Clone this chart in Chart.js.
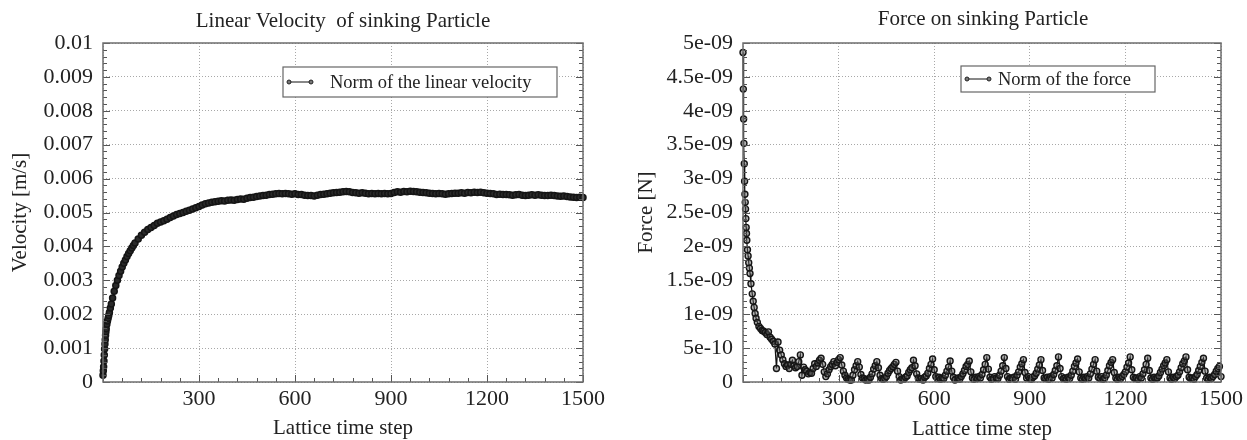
<!DOCTYPE html>
<html>
<head>
<meta charset="utf-8">
<script src="https://cdn.jsdelivr.net/npm/chart.js@4.4.1/dist/chart.umd.min.js"></script>
<style>
html, body { margin: 0; padding: 0; background: #fff; }
#velocityChart { position: absolute; left: 0; top: 0; }
#forceChart { position: absolute; left: 620px; top: 0; }
</style>
</head>
<body>
<canvas id="velocityChart" width="620" height="440"></canvas>
<canvas id="forceChart" width="627" height="440"></canvas>
<script>
// lattice time steps of the velocity samples
var velocitySteps = [
    0, 1, 2, 3, 4, 5, 6, 7, 8, 9, 10, 12, 14, 16, 18, 20, 23, 26, 30,
    35, 40, 45, 50, 55, 60, 65, 70, 75, 80, 85, 90, 95, 100,
    110, 120, 130, 140, 150, 160, 170, 180, 190, 200,
    210, 220, 230, 240, 250, 260, 270, 280, 290, 300,
    310, 320, 330, 340, 350, 360, 370, 380, 390, 400,
    410, 420, 430, 440, 450, 460, 470, 480, 490, 500,
    510, 520, 530, 540, 550, 560, 570, 580, 590, 600,
    610, 620, 630, 640, 650, 660, 670, 680, 690, 700,
    710, 720, 730, 740, 750, 760, 770, 780, 790, 800,
    810, 820, 830, 840, 850, 860, 870, 880, 890, 900,
    910, 920, 930, 940, 950, 960, 970, 980, 990, 1000,
    1010, 1020, 1030, 1040, 1050, 1060, 1070, 1080, 1090, 1100,
    1110, 1120, 1130, 1140, 1150, 1160, 1170, 1180, 1190, 1200,
    1210, 1220, 1230, 1240, 1250, 1260, 1270, 1280, 1290, 1300,
    1310, 1320, 1330, 1340, 1350, 1360, 1370, 1380, 1390, 1400,
    1410, 1420, 1430, 1440, 1450, 1460, 1470, 1480, 1490, 1500
];
// norm of the linear velocity, in units of 1e-3 m/s
var velocityMilli = [
    0.20, 0.33, 0.45, 0.62, 0.80, 0.97, 1.12, 1.25, 1.38, 1.48, 1.57, 1.70, 1.80, 1.88, 1.96, 2.05, 2.18, 2.30, 2.48,
    2.68, 2.85, 3.00, 3.14, 3.27, 3.39, 3.50, 3.60, 3.70, 3.79, 3.87, 3.95, 4.03, 4.10,
    4.22, 4.33, 4.42, 4.50, 4.56, 4.62, 4.68, 4.72, 4.76, 4.80,
    4.85, 4.90, 4.94, 4.97, 5.00, 5.04, 5.07, 5.10, 5.14, 5.18,
    5.22, 5.26, 5.28, 5.30, 5.32, 5.33, 5.35, 5.34, 5.36, 5.37,
    5.36, 5.38, 5.40, 5.39, 5.42, 5.44, 5.45, 5.47, 5.49, 5.50,
    5.51, 5.53, 5.54, 5.55, 5.56, 5.55, 5.56, 5.55, 5.54, 5.55,
    5.53, 5.53, 5.51, 5.50, 5.50, 5.49, 5.51, 5.53, 5.54, 5.55,
    5.57, 5.58, 5.59, 5.60, 5.61, 5.62, 5.61, 5.59, 5.58, 5.57,
    5.58, 5.57, 5.55, 5.56, 5.55, 5.56, 5.55, 5.56, 5.55, 5.56,
    5.59, 5.61, 5.60, 5.62, 5.61, 5.63, 5.62, 5.61, 5.60, 5.59,
    5.58, 5.57, 5.56, 5.55, 5.56, 5.55, 5.54, 5.55, 5.56, 5.57,
    5.57, 5.58, 5.57, 5.59, 5.58, 5.60, 5.59, 5.60, 5.58, 5.57,
    5.56, 5.55, 5.53, 5.54, 5.53, 5.53, 5.52, 5.51, 5.52, 5.53,
    5.51, 5.50, 5.51, 5.52, 5.51, 5.52, 5.51, 5.50, 5.50, 5.51,
    5.50, 5.49, 5.48, 5.49, 5.47, 5.46, 5.45, 5.44, 5.45, 5.44
];

// lattice time steps of the force samples
var forceSteps = [
    0, 1, 2, 3, 4, 5, 6, 7, 8, 9, 10, 11, 12,
    14, 16, 18, 20, 22, 25, 29, 32, 35, 38, 41, 45,
    50, 55, 60, 65, 70, 75, 80, 85, 90, 95,
    100, 105, 110, 115, 120, 125, 130, 135, 140, 145,
    150, 155, 160, 165, 170, 175, 180, 185, 190, 195,
    200, 205, 210, 215, 220, 225, 230, 235, 240, 245,
    250, 255, 260, 265, 270, 275, 280, 285, 290, 295,
    300, 305, 310, 315, 320, 325, 330, 335, 340, 345,
    350, 355, 360, 365, 370, 375, 380, 385, 390, 395,
    400, 405, 410, 415, 420, 425, 430, 435, 440, 445,
    450, 455, 460, 465, 470, 475, 480, 485, 490, 495,
    500, 505, 510, 515, 520, 525, 530, 535, 540, 545,
    550, 555, 560, 565, 570, 575, 580, 585, 590, 595,
    600, 605, 610, 615, 620, 625, 630, 635, 640, 645,
    650, 655, 660, 665, 670, 675, 680, 685, 690, 695,
    700, 705, 710, 715, 720, 725, 730, 735, 740, 745,
    750, 755, 760, 765, 770, 775, 780, 785, 790, 795,
    800, 805, 810, 815, 820, 825, 830, 835, 840, 845,
    850, 855, 860, 865, 870, 875, 880, 885, 890, 895,
    900, 905, 910, 915, 920, 925, 930, 935, 940, 945,
    950, 955, 960, 965, 970, 975, 980, 985, 990, 995,
    1000, 1005, 1010, 1015, 1020, 1025, 1030, 1035, 1040, 1045,
    1050, 1055, 1060, 1065, 1070, 1075, 1080, 1085, 1090, 1095,
    1100, 1105, 1110, 1115, 1120, 1125, 1130, 1135, 1140, 1145,
    1150, 1155, 1160, 1165, 1170, 1175, 1180, 1185, 1190, 1195,
    1200, 1205, 1210, 1215, 1220, 1225, 1230, 1235, 1240, 1245,
    1250, 1255, 1260, 1265, 1270, 1275, 1280, 1285, 1290, 1295,
    1300, 1305, 1310, 1315, 1320, 1325, 1330, 1335, 1340, 1345,
    1350, 1355, 1360, 1365, 1370, 1375, 1380, 1385, 1390, 1395,
    1400, 1405, 1410, 1415, 1420, 1425, 1430, 1435, 1440, 1445,
    1450, 1455, 1460, 1465, 1470, 1475, 1480, 1485, 1490, 1495,
    1500
];
// norm of the force, in units of 1e-10 N
var forceE10 = [
    48.6, 43.2, 38.8, 35.2, 32.2, 29.6, 27.7, 26.5, 25.5, 24.1, 22.8, 21.9, 20.9,
    19.5, 18.6, 17.6, 16.8, 16.0, 14.5, 13.0, 11.9, 11.0, 10.1, 9.4, 8.8,
    8.2, 7.9, 7.6, 7.5, 7.3, 7.0, 7.4, 6.6, 6.3, 6.0,
    5.6, 2.0, 5.9, 4.7, 4.0, 3.3, 2.7, 2.3, 2.5, 2.0,
    2.6, 3.2, 2.4, 2.1, 2.3, 3.0, 4.0, 1.0, 2.2, 1.8,
    1.6, 1.2, 1.4, 1.3, 2.0, 2.7, 2.3, 2.8, 3.2, 3.5,
    2.6, 1.5, 0.8, 1.2, 1.8, 2.25, 2.6, 3.0, 2.4, 2.9,
    3.3, 3.6, 2.5, 1.6, 1.0, 0.6, 0.4, 0.3, 0.3, 1.0,
    1.8, 2.4, 3.0, 2.2, 1.1, 0.6, 0.5, 0.3, 0.4, 0.3,
    0.7, 1.2, 1.9, 2.4, 3.0, 2.1, 1.0, 0.5, 0.4, 0.5,
    0.8, 1.3, 1.7, 2.0, 2.25, 2.6, 2.9, 1.6, 0.8, 0.3,
    0.5, 0.4, 0.7, 0.9, 1.4, 1.8, 2.1, 3.2, 2.4, 1.2,
    0.6, 0.4, 0.5, 0.3, 0.7, 0.9, 1.3, 2.0, 2.6, 3.4,
    1.8, 0.8, 0.5, 0.7, 0.4, 0.6, 0.5, 1.0, 1.6, 2.2,
    3.1, 1.6, 0.7, 0.3, 0.5, 0.6, 0.4, 0.8, 1.2, 1.7,
    2.3, 2.6, 3.1, 1.5, 0.6, 0.4, 0.7, 0.5, 0.8, 0.6,
    1.1, 1.8, 2.6, 3.6, 1.9, 0.7, 0.4, 0.5, 0.8, 0.6,
    0.5, 1.0, 1.6, 2.4, 3.6, 2.0, 0.8, 0.4, 0.6, 0.5,
    0.7, 0.4, 1.0, 1.5, 2.2, 2.7, 3.3, 1.4, 0.6, 0.8,
    0.5, 0.4, 0.7, 0.9, 1.3, 1.9, 2.5, 3.3, 1.7, 0.6,
    0.5, 0.7, 0.4, 0.8, 0.6, 1.1, 1.7, 2.4, 3.7, 2.0,
    0.8, 0.5, 0.6, 0.4, 0.7, 0.5, 1.0, 1.6, 2.3, 2.8,
    3.4, 1.5, 0.6, 0.4, 0.7, 0.5, 0.8, 0.6, 1.2, 1.9,
    2.6, 3.3, 1.6, 0.7, 0.5, 0.8, 0.4, 0.6, 1.0, 1.7,
    2.4, 2.9, 3.3, 1.4, 0.6, 0.4, 0.7, 0.5, 0.8, 1.1,
    1.5, 2.2, 2.8, 3.7, 1.8, 0.7, 0.5, 0.6, 0.4, 0.8,
    0.6, 1.2, 1.8, 2.6, 3.5, 1.7, 0.6, 0.4, 0.7, 0.5,
    0.6, 0.9, 1.4, 1.9, 2.4, 2.8, 3.3, 1.5, 0.6, 0.4,
    0.7, 0.5, 0.8, 1.0, 1.5, 2.1, 2.7, 3.1, 3.7, 1.8,
    0.7, 0.5, 0.6, 0.4, 0.8, 1.1, 1.7, 2.3, 2.9, 3.5,
    1.6, 0.6, 0.4, 0.7, 0.5, 0.8, 1.1, 1.6, 2.0, 2.3,
    0.8
];

var FONT = "'Liberation Serif', 'DejaVu Serif', serif";
Chart.defaults.font.family = FONT;
Chart.defaults.color = '#222';

// gnuplot-like frame: border, inward major/minor ticks, title and legend box
var gnuFrame = {
    id: 'gnuFrame',
    afterDatasetsDraw: function(chart, args, o) {
        var ctx = chart.ctx, a = chart.chartArea;
        var x = chart.scales.x, y = chart.scales.y;
        ctx.save();
        ctx.strokeStyle = '#555';
        ctx.lineWidth = 1;
        ctx.beginPath();
        for (var i = 0; i * o.xMinor <= o.xMax + 1e-9; i++) {
            var px = Math.round(x.getPixelForValue(i * o.xMinor)) + 0.5;
            var len = i % o.xEvery === 0 ? 7 : 4;
            ctx.moveTo(px, a.bottom);
            ctx.lineTo(px, a.bottom - len);
        }
        for (var j = 0; j * o.yMinor <= o.yMax * 1.0001; j++) {
            var py = Math.round(y.getPixelForValue(j * o.yMinor)) + 0.5;
            var l2 = j % o.yEvery === 0 ? 7 : 4;
            ctx.moveTo(a.left, py);
            ctx.lineTo(a.left + l2, py);
            ctx.moveTo(a.right, py);
            ctx.lineTo(a.right - l2, py);
        }
        ctx.stroke();
        ctx.strokeStyle = '#6e6e6e';
        ctx.lineWidth = 1.5;
        ctx.strokeRect(a.left, a.top, a.right - a.left, a.bottom - a.top);
        ctx.restore();
    },
    afterDraw: function(chart, args, o) {
        var ctx = chart.ctx;
        ctx.save();
        ctx.fillStyle = '#222';
        ctx.textBaseline = 'middle';
        ctx.textAlign = 'center';
        ctx.font = '21px ' + FONT;
        ctx.fillText(o.title, o.titleX, o.titleY);

        var b = o.legend;
        ctx.fillStyle = '#fff';
        ctx.fillRect(b.x, b.y, b.w, b.h);
        ctx.strokeStyle = '#666';
        ctx.lineWidth = 1.2;
        ctx.strokeRect(b.x, b.y, b.w, b.h);
        var ly = b.y + b.h / 2;
        ctx.strokeStyle = '#111';
        ctx.lineWidth = 1;
        ctx.beginPath();
        ctx.moveTo(b.x + 6, ly);
        ctx.lineTo(b.x + 28, ly);
        ctx.stroke();
        [b.x + 6, b.x + 28].forEach(function(cx) {
            ctx.beginPath();
            ctx.arc(cx, ly, 2, 0, Math.PI * 2);
            ctx.fillStyle = '#777';
            ctx.fill();
            ctx.strokeStyle = '#222';
            ctx.stroke();
        });
        ctx.fillStyle = '#222';
        ctx.textAlign = 'left';
        ctx.font = '18.5px ' + FONT;
        ctx.fillText(b.text, b.x + b.textOffset, ly + 1);
        ctx.restore();
    }
};

// gnuplot %g style labels: 5e-09, 4.5e-09 ...
function gformat(v) {
    if (Math.abs(v) < 1e-20) return '0';
    var e = Math.floor(Math.log10(v) + 1e-9);
    var m = Math.round(v / Math.pow(10, e) * 10) / 10;
    var es = String(Math.abs(e));
    if (es.length < 2) es = '0' + es;
    return m + 'e' + (e < 0 ? '-' : '+') + es;
}

function makeChart(id, cfg) {
    var points = cfg.steps.map(function(s, i) {
        return { x: s, y: cfg.values[i] * cfg.unit };
    });
    return new Chart(document.getElementById(id), {
        type: 'line',
        data: {
            datasets: [{
                data: points,
                borderColor: '#111',
                borderWidth: 1.2,
                pointRadius: cfg.radius,
                pointBorderWidth: cfg.pointBorder,
                pointBorderColor: '#151515',
                pointBackgroundColor: cfg.fill,
                tension: 0,
                clip: false
            }]
        },
        options: {
            responsive: false,
            animation: false,
            devicePixelRatio: 1,
            layout: { padding: { left: 0, right: cfg.padRight, top: 43, bottom: 0 } },
            plugins: {
                legend: { display: false },
                tooltip: { enabled: false },
                gnuFrame: cfg.frame
            },
            scales: {
                x: {
                    type: 'linear',
                    min: 0,
                    max: 1500,
                    afterFit: function(s) { s.height = 58; },
                    grid: { color: '#a8a8a8', lineWidth: 1, drawTicks: false },
                    border: { display: false, dash: [1, 2] },
                    ticks: {
                        stepSize: 300,
                        padding: 4,
                        font: { size: 22 },
                        maxRotation: 0,
                        callback: function(v) { return v === 0 ? '' : v; }
                    },
                    title: {
                        display: true,
                        text: 'Lattice time step',
                        font: { size: 21, lineHeight: 1 },
                        padding: { top: 0, bottom: cfg.xTitlePad }
                    }
                },
                y: {
                    type: 'linear',
                    min: 0,
                    max: cfg.yMax,
                    afterFit: function(s) { s.width = cfg.yWidth; },
                    grid: { color: '#a8a8a8', lineWidth: 1, drawTicks: false },
                    border: { display: false, dash: [1, 2] },
                    ticks: {
                        stepSize: cfg.yStep,
                        padding: 10,
                        font: { size: 22 },
                        callback: cfg.yFormat
                    },
                    title: {
                        display: true,
                        text: cfg.yTitle,
                        font: { size: 21, lineHeight: 1 },
                        padding: { top: cfg.yTitlePad, bottom: 0 }
                    }
                }
            }
        },
        plugins: [gnuFrame]
    });
}

makeChart('velocityChart', {
    steps: velocitySteps,
    values: velocityMilli,
    unit: 1e-3,
    radius: 3,
    pointBorder: 1.5,
    fill: '#2a2a2a',
    padRight: 37,
    yWidth: 103,
    yMax: 0.01,
    yStep: 0.001,
    yTitle: 'Velocity [m/s]',
    yTitlePad: 10,
    xTitlePad: 1,
    yFormat: function(v) { return String(+v.toFixed(3)); },
    frame: {
        xMax: 1500, xMinor: 60, xEvery: 5,
        yMax: 0.01, yMinor: 0.0002, yEvery: 5,
        title: 'Linear Velocity  of sinking Particle',
        titleX: 343, titleY: 21,
        legend: { x: 283, y: 67, w: 274, h: 30, text: 'Norm of the linear velocity', textOffset: 47 }
    }
});

makeChart('forceChart', {
    steps: forceSteps,
    values: forceE10,
    unit: 1e-10,
    radius: 3,
    pointBorder: 1.4,
    fill: 'rgba(90,90,90,0.45)',
    padRight: 24,
    yWidth: 123,
    yMax: 5e-9,
    yStep: 5e-10,
    yTitle: 'Force [N]',
    yTitlePad: 16,
    xTitlePad: 0,
    yFormat: function(v) { return gformat(v); },
    frame: {
        xMax: 1500, xMinor: 60, xEvery: 5,
        yMax: 5e-9, yMinor: 1e-10, yEvery: 5,
        title: 'Force on sinking Particle',
        titleX: 363, titleY: 19,
        legend: { x: 341, y: 66, w: 194, h: 26, text: 'Norm of the force', textOffset: 37 }
    }
});
</script>
</body>
</html>
